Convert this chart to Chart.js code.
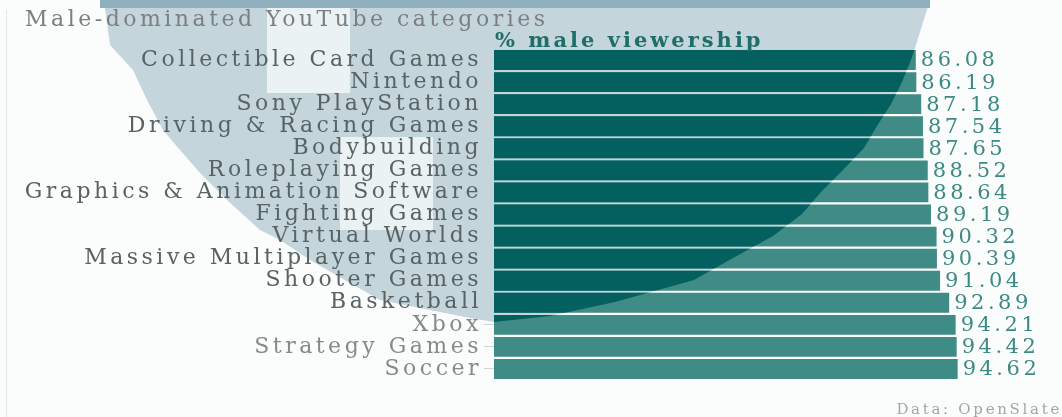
<!DOCTYPE html>
<html>
<head>
<meta charset="utf-8">
<script src="https://cdn.jsdelivr.net/npm/chart.js@4/dist/chart.umd.min.js"></script>
<style>
  html, body { margin: 0; padding: 0; background: #fbfcfc; }
  #wrap { width: 1062px; height: 417px; position: relative; }
</style>
</head>
<body>
<div id="wrap"><canvas id="youtube"></canvas></div>
<script>
const categories = [
    'Collectible Card Games', 'Nintendo', 'Sony PlayStation', 'Driving & Racing Games',
    'Bodybuilding', 'Roleplaying Games', 'Graphics & Animation Software', 'Fighting Games',
    'Virtual Worlds', 'Massive Multiplayer Games', 'Shooter Games', 'Basketball',
    'Xbox', 'Strategy Games', 'Soccer'
]
const maleShare = [86.08, 86.19, 87.18, 87.54, 87.65, 88.52, 88.64, 89.19, 90.32, 90.39, 91.04, 92.89, 94.21, 94.42, 94.62]
const titleText = 'Male-dominated YouTube categories'
const seriesLabel = '% male viewership'
const sourceText = 'Data: OpenSlate'

const serif = '"DejaVu Serif", "Liberation Serif", serif'
const spacing = '3.5px'

// the washed-out video overlay that sits over the top of the chart
const shade = [
    [100, 0], [930, 0], [915, 48], [911, 60], [902, 82], [891, 104], [877, 126], [864, 148],
    [843, 170], [821, 192], [802, 214], [773, 236], [733, 258], [694, 280], [615, 302],
    [550, 316], [494, 322], [470, 318], [380, 300], [350, 283], [310, 260], [280, 240],
    [260, 230], [227, 200], [200, 173], [180, 150], [163, 130], [147, 100], [133, 70],
    [110, 45], [105, 8]
]

function shadePath(ctx) {
    ctx.beginPath()
    shade.forEach((p, i) => i ? ctx.lineTo(p[0], p[1]) : ctx.moveTo(p[0], p[1]))
    ctx.closePath()
}

const decor = {
    id: 'decor',
    beforeUpdate(chart) {
        chart.ctx.letterSpacing = spacing
    },
    beforeDraw(chart) {
        const ctx = chart.ctx
        ctx.save()
        ctx.fillStyle = '#fbfcfc'
        ctx.fillRect(0, 0, chart.width, chart.height)
        ctx.fillStyle = '#c4d6dc'
        shadePath(ctx)
        ctx.fill()
        ctx.fillStyle = '#8fb0bc'
        ctx.fillRect(100, 0, 830, 8)
        ctx.fillStyle = '#ebf2f4'
        ctx.fillRect(267, 8, 83, 85)
        ctx.fillRect(340, 137, 93, 93)
        ctx.fillStyle = '#e4e7e8'
        ctx.fillRect(6, 10, 1, 407)
        ctx.restore()
        ctx.letterSpacing = spacing
    },
    afterDatasetsDraw(chart) {
        const ctx = chart.ctx
        const meta = chart.getDatasetMeta(0)
        ctx.save()
        meta.data.forEach(bar => {
            const p = bar.getProps(['x', 'y', 'base', 'height'], true)
            ctx.save()
            ctx.beginPath()
            ctx.rect(p.base, p.y - p.height / 2, p.x - p.base, p.height)
            ctx.clip()
            ctx.fillStyle = '#045f5f'
            shadePath(ctx)
            ctx.fill()
            ctx.restore()
        })

        ctx.letterSpacing = '3.5px'
        ctx.font = '21px ' + serif
        ctx.fillStyle = '#3c8a83'
        ctx.textBaseline = 'middle'
        ctx.textAlign = 'left'
        meta.data.forEach((bar, i) => {
            ctx.fillText(maleShare[i].toFixed(2), bar.x + 5, bar.y + 1)
        })

        ctx.textBaseline = 'alphabetic'
        ctx.letterSpacing = '3.5px'
        ctx.font = '22px ' + serif
        ctx.fillStyle = '#7b7f80'
        ctx.fillText(titleText, 25, 26)

        ctx.letterSpacing = '3px'
        ctx.font = 'bold 21px ' + serif
        ctx.fillStyle = '#1f6e69'
        ctx.fillText(seriesLabel, 495, 47)

        ctx.letterSpacing = '2.7px'
        ctx.font = '15px ' + serif
        ctx.fillStyle = '#a3a6a7'
        ctx.textAlign = 'right'
        ctx.fillText(sourceText, 1062, 414)
        ctx.restore()
    }
}

const chart_youtube = document.getElementById('youtube')
new Chart(chart_youtube, {
    type: 'bar',
    data: {
        labels: categories,
        datasets: [{
            data: maleShare,
            backgroundColor: '#3f8b86',
            borderWidth: 0,
            categoryPercentage: 1,
            barPercentage: 0.9
        }]
    },
    plugins: [decor],
    options: {
        indexAxis: 'y',
        responsive: true,
        maintainAspectRatio: false,
        animation: false,
        layout: {
            padding: { top: 49, bottom: 37, left: 8, right: 78 }
        },
        plugins: {
            legend: { display: false },
            tooltip: { enabled: false }
        },
        scales: {
            x: {
                display: false,
                min: 0,
                max: 100
            },
            y: {
                afterFit(scale) {
                    scale.width = 486
                },
                border: { display: false },
                grid: {
                    offset: false,
                    drawOnChartArea: false,
                    tickLength: 10,
                    color: '#cdd6d8'
                },
                ticks: {
                    autoSkip: false,
                    padding: 2,
                    color: ctx => ctx.index < 12 ? '#596364' : '#868a8b',
                    font: { family: serif, size: 22 }
                }
            }
        }
    }
})
</script>
</body>
</html>
